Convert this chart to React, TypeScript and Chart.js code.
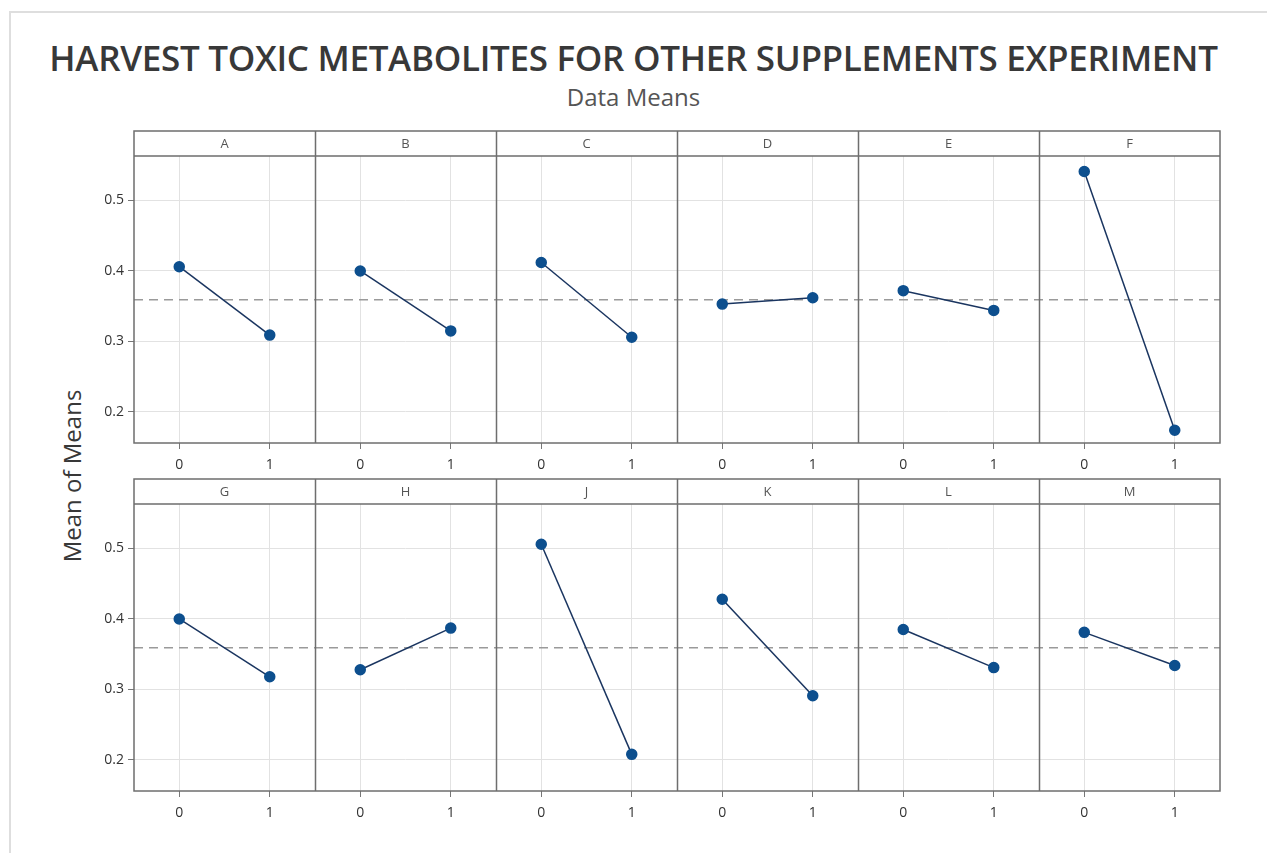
import React, { useEffect, useRef } from "react";
import { Chart, registerables } from "chart.js";

Chart.register(...registerables);

const TITLE = "HARVEST TOXIC METABOLITES FOR OTHER SUPPLEMENTS EXPERIMENT";
const SUBTITLE = "Data Means";
const Y_LABEL = "Mean of Means";

const FACTORS_TOP = ["A", "B", "C", "D", "E", "F"];
const LEVEL0_TOP = [0.406, 0.4, 0.412, 0.353, 0.372, 0.541];
const LEVEL1_TOP = [0.309, 0.315, 0.306, 0.362, 0.344, 0.174];

const FACTORS_BOTTOM = ["G", "H", "J", "K", "L", "M"];
const LEVEL0_BOTTOM = [0.4, 0.328, 0.506, 0.428, 0.385, 0.381];
const LEVEL1_BOTTOM = [0.318, 0.387, 0.208, 0.291, 0.331, 0.334];

const GRAND_MEAN = 0.359;
const LEVEL_LABELS = ["0", "1"];
const Y_TICKS = [0.2, 0.3, 0.4, 0.5];
const Y_MIN = 0.156;
const Y_MAX = 0.563;

const FONT = "'Open Sans', 'Noto Sans', sans-serif";
const FRAME = "#6e6e6e";

type RowProps = { factors: string[]; lvl0: number[]; lvl1: number[]; top: number };

function PanelRow({ factors, lvl0, lvl1, top }: RowProps) {
  const ref = useRef<HTMLCanvasElement | null>(null);
  useEffect(() => {
    if (!ref.current) return;
    const n = factors.length;
    const datasets: any[] = factors.map((f, i) => ({
      label: f,
      data: [
        { x: 2 * i, y: lvl0[i] },
        { x: 2 * i + 1, y: lvl1[i] },
      ],
      showLine: true,
      borderColor: "#1a3560",
      borderWidth: 1.5,
      pointRadius: 5,
      pointBackgroundColor: "#0d4f8e",
      pointBorderColor: "#0d4f8e",
      order: 1,
    }));
    datasets.push({
      label: "mean",
      data: [
        { x: -0.5, y: GRAND_MEAN },
        { x: 2 * n - 0.5, y: GRAND_MEAN },
      ],
      showLine: true,
      borderColor: "#9a9a9a",
      borderWidth: 1.5,
      borderDash: [9, 6],
      pointRadius: 0,
      order: 2,
    });

    const headerPlugin = {
      id: "panelFrames",
      afterDraw(chart: any) {
        const { ctx, chartArea } = chart;
        const xs = chart.scales.x;
        const hTop = chartArea.top - 25;
        ctx.save();
        ctx.strokeStyle = FRAME;
        ctx.lineWidth = 1.5;
        ctx.fillStyle = "#ffffff";
        ctx.fillRect(chartArea.left, hTop, chartArea.right - chartArea.left, 25);
        ctx.strokeRect(chartArea.left, hTop, chartArea.right - chartArea.left, chartArea.bottom - hTop);
        ctx.beginPath();
        ctx.moveTo(chartArea.left, chartArea.top);
        ctx.lineTo(chartArea.right, chartArea.top);
        for (let i = 1; i < n; i++) {
          const px = Math.round(xs.getPixelForValue(2 * i - 0.5)) + 0.5;
          ctx.moveTo(px, hTop);
          ctx.lineTo(px, chartArea.bottom);
        }
        ctx.stroke();
        ctx.fillStyle = "#555555";
        ctx.font = `13px ${FONT}`;
        ctx.textAlign = "center";
        ctx.textBaseline = "middle";
        for (let i = 0; i < n; i++) {
          const cx = (xs.getPixelForValue(2 * i - 0.5) + xs.getPixelForValue(2 * i + 1.5)) / 2;
          ctx.fillText(factors[i], cx, hTop + 13);
        }
        ctx.restore();
      },
    };

    const chart = new Chart(ref.current, {
      type: "scatter",
      data: { datasets },
      plugins: [headerPlugin],
      options: {
        animation: false,
        responsive: false,
        devicePixelRatio: 1,
        layout: { padding: { top: 31, right: 10, left: 0, bottom: 0 } },
        plugins: { legend: { display: false }, tooltip: { enabled: false }, title: { display: false } },
        scales: {
          x: {
            type: "linear",
            min: -0.5,
            max: 2 * n - 0.5,
            afterBuildTicks: (s: any) => {
              s.ticks = Array.from({ length: 2 * n }, (_, k) => ({ value: k }));
            },
            afterFit: (s: any) => {
              s.height = 33;
            },
            ticks: {
              autoSkip: false,
              maxRotation: 0,
              padding: 8,
              color: "#333333",
              font: { family: FONT, size: 14 },
              callback: (v: any) => LEVEL_LABELS[Number(v) % 2],
            },
            grid: { color: "#e2e2e2", lineWidth: 1, tickLength: 6, tickColor: "#777777" },
            border: { display: false },
          },
          y: {
            min: Y_MIN,
            max: Y_MAX,
            afterBuildTicks: (s: any) => {
              s.ticks = Y_TICKS.map((v) => ({ value: v }));
            },
            afterFit: (s: any) => {
              s.width = 54;
            },
            ticks: {
              padding: 4,
              color: "#333333",
              font: { family: FONT, size: 14 },
              callback: (v: any) => Number(v).toFixed(1),
            },
            grid: { color: "#e2e2e2", lineWidth: 1, tickLength: 6, tickColor: "#777777" },
            border: { display: false },
          },
        },
      },
    } as any);
    return () => chart.destroy();
  }, [factors, lvl0, lvl1]);

  return (
    <canvas
      ref={ref}
      width={1150}
      height={351}
      style={{ position: "absolute", left: 80, top, width: 1150, height: 351 }}
    />
  );
}

export default function App() {
  useEffect(() => {
    document.body.style.margin = "0";
  }, []);
  return (
    <div
      style={{
        position: "relative",
        width: 1267,
        height: 853,
        background: "#ffffff",
        overflow: "hidden",
        fontFamily: FONT,
      }}
    >
      <div
        style={{
          position: "absolute",
          left: 9,
          top: 11,
          width: 1270,
          height: 860,
          border: "2px solid #dedede",
          boxSizing: "border-box",
        }}
      />
      <div
        style={{
          position: "absolute",
          left: 0,
          top: 35,
          width: 1267,
          textAlign: "center",
          fontSize: 35,
          fontWeight: 600,
          color: "#383838",
          lineHeight: "46px",
          whiteSpace: "nowrap",
          letterSpacing: -0.3,
        }}
      >
        {TITLE}
      </div>
      <div
        style={{
          position: "absolute",
          left: 0,
          top: 81,
          width: 1267,
          textAlign: "center",
          fontSize: 24,
          color: "#555555",
          lineHeight: "32px",
        }}
      >
        {SUBTITLE}
      </div>
      <div
        style={{
          position: "absolute",
          left: 72,
          top: 476,
          transform: "translate(-50%, -50%) rotate(-90deg)",
          fontSize: 24,
          color: "#383838",
          whiteSpace: "nowrap",
          lineHeight: "30px",
        }}
      >
        {Y_LABEL}
      </div>
      <PanelRow factors={FACTORS_TOP} lvl0={LEVEL0_TOP} lvl1={LEVEL1_TOP} top={125} />
      <PanelRow factors={FACTORS_BOTTOM} lvl0={LEVEL0_BOTTOM} lvl1={LEVEL1_BOTTOM} top={473} />
    </div>
  );
}
